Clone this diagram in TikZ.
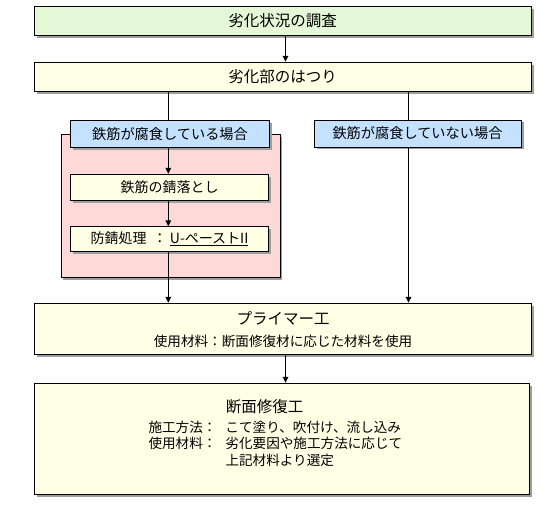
\documentclass[tikz,border=0pt]{standalone}
\usepackage{fontspec}
\setmainfont{Noto Sans CJK JP}
\usetikzlibrary{arrows.meta,positioning,shadows}
\definecolor{surveygreen}{HTML}{E4F8D8}
\definecolor{workyellow}{HTML}{FFFFE6}
\definecolor{caseblue}{HTML}{C4E2FF}
\definecolor{panelpink}{HTML}{FFD8D8}

\begin{document}
\begin{tikzpicture}[x=1pt, y=-1pt,
  stepbox/.style={draw, line width=0.8pt, inner sep=0pt, align=center, fill=workyellow,
    font=\fontsize{15.5pt}{18pt}\selectfont,
    drop shadow={shadow xshift=2.5pt, shadow yshift=-2.5pt, fill=black!38, opacity=1}},
  casebox/.style={stepbox, fill=caseblue, font=\fontsize{14.2pt}{17pt}\selectfont},
  subbox/.style={stepbox, font=\fontsize{14pt}{17pt}\selectfont},
  panel/.style={stepbox, fill=panelpink},
  detail/.style={inner sep=0pt, align=left, font=\fontsize{13.6pt}{16.5pt}\selectfont},
  link/.style={line width=1.6pt},
  edge/.style={link, -{Triangle[length=6pt, width=5.5pt]}}
]
\useasboundingbox (0,0) rectangle (557,506);

% lines of the connectors
\coordinate (mline) at (285.5,0);
\coordinate (lline) at (168.3,0);
\coordinate (rline) at (408.5,0);

\node[stepbox, fill=surveygreen, minimum width=497pt, minimum height=29pt] (survey) at (282.7,20.8) {劣化状況の調査};
\node[stepbox, minimum width=497pt, minimum height=29pt] (chip) at (282.7,76.7) {劣化部のはつり};

\node[panel, minimum width=219pt, minimum height=143pt] (rustpanel) at (170.4,205.7) {};
\node[casebox, minimum width=199pt, minimum height=27pt] (rusty) at (170,133.7) {鉄筋が腐食している場合};
\node[casebox, minimum width=207pt, minimum height=27pt] (sound) at (417.5,133.4) {鉄筋が腐食していない場合};
\node[subbox, minimum width=198pt, minimum height=26pt] (clean) at (169.5,187.2) {鉄筋の錆落とし};
\node[subbox, minimum width=198pt, minimum height=25pt] (protect) at (169.5,239.2) {防錆処理\ \ ：\ \underline{U-ペーストII}};

\node[stepbox, minimum width=497pt, minimum height=51pt] (primer) at (282.7,328.7) {};
\node[inner sep=0pt, font=\fontsize{15.5pt}{18pt}\selectfont] (primertitle) at (283,318) {プライマー工};
\node[detail] (primerdet) at (283,341.7) {使用材料：断面修復材に応じた材料を使用};

\node[stepbox, minimum width=495pt, minimum height=111pt] (repair) at (281.7,438.7) {};
\node[inner sep=0pt, font=\fontsize{15.5pt}{18pt}\selectfont] (repairtitle) at (264.5,406.7) {断面修復工};
\node[detail, anchor=north west] (repairdet) at (148.3,420.5) {%
  \begin{tabular}{@{}l@{\hspace{9pt}}l@{}}
  施工方法：& こて塗り、吹付け、流し込み\\
  使用材料：& 劣化要因や施工方法に応じて\\
            & 上記材料より選定
  \end{tabular}};

\draw[edge] (survey.south -| mline) -- (chip.north -| mline);
\draw[link] (chip.south -| lline) -- (rusty.north -| lline);
\draw[edge] (rusty.south -| lline) -- (clean.north -| lline);
\draw[edge] (clean.south -| lline) -- (protect.north -| lline);
\draw[edge] (protect.south -| lline) -- (primer.north -| lline);
\draw[link] (chip.south -| rline) -- (sound.north -| rline);
\draw[edge] (sound.south -| rline) -- (primer.north -| rline);
\draw[edge] (primer.south -| mline) -- (repair.north -| mline);
\end{tikzpicture}
\end{document}
